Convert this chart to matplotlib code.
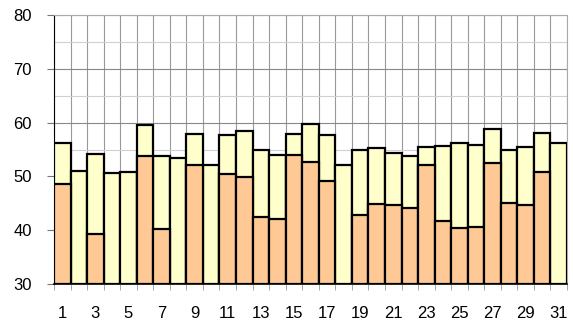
import numpy as np
import matplotlib.pyplot as plt
from matplotlib.ticker import MultipleLocator

plt.rcParams['font.family'] = ['Liberation Sans', 'DejaVu Sans']

days = list(range(1, 32))
# upper (light yellow) bar heights
top_vals = [56.3, 51.0, 54.2, 50.6, 50.8, 59.5, 53.7, 53.4, 57.9, 52.2,
            57.7, 58.4, 54.9, 54.0, 57.8, 59.7, 57.7, 52.2, 55.0, 55.3,
            54.4, 53.7, 55.4, 55.6, 56.3, 55.8, 58.9, 55.0, 55.4, 58.0, 56.3]
# lower (orange) bar heights, None where the day has no lower bar
low_vals = [48.5, None, 39.3, None, None, 53.8, 40.2, None, 52.2, None,
            50.4, 49.8, 42.4, 42.0, 54.0, 52.7, 49.2, None, 42.8, 44.9,
            44.7, 44.1, 52.1, 41.7, 40.5, 40.6, 52.4, 45.1, 44.7, 50.8, None]
xlabels = [str(d) if d % 2 == 1 else '' for d in days]

fig = plt.figure(figsize=(5.73, 3.27), dpi=100)
ax = fig.add_axes([54 / 573, 1 - 284 / 327, 513 / 573, 269 / 327])

x = np.arange(len(days))
base = 30
ax.bar(x, np.array(top_vals) - base, bottom=base, width=1.0,
       color='#FFFFCC', edgecolor='black', linewidth=1.6, zorder=3)
lx = [i for i, v in enumerate(low_vals) if v is not None]
lv = [v - base for v in low_vals if v is not None]
ax.bar(lx, lv, bottom=base, width=1.0,
       color='#FFC996', edgecolor='black', linewidth=1.6, zorder=4)

ax.set_xlim(-0.5, len(days) - 0.5)
ax.set_ylim(30, 80)
ax.yaxis.set_major_locator(MultipleLocator(10))
ax.yaxis.set_minor_locator(MultipleLocator(5))
ax.set_xticks(x)
ax.set_xticklabels(xlabels)
ax.set_xticks(np.arange(-0.5, len(days)), minor=True)
ax.tick_params(axis='x', which='major', length=0, labelsize=12, pad=16)
ax.tick_params(axis='x', which='minor', length=4, color='#999999')
ax.tick_params(axis='y', which='major', length=5, color='#777777', labelsize=12, pad=11)
ax.tick_params(axis='y', which='minor', length=0)

ax.grid(which='major', axis='y', color='#888888', linewidth=0.8, zorder=0)
ax.grid(which='minor', axis='y', color='#d0d0d0', linewidth=0.8, zorder=0)
ax.grid(which='minor', axis='x', color='#999999', linewidth=0.8, zorder=0)

ax.spines['left'].set_color('black')
ax.spines['bottom'].set_color('black')
ax.spines['bottom'].set_linewidth(1.2)
ax.spines['top'].set_color('#aaaaaa')
ax.spines['right'].set_color('#aaaaaa')

fig.savefig('out.png', dpi=100)
